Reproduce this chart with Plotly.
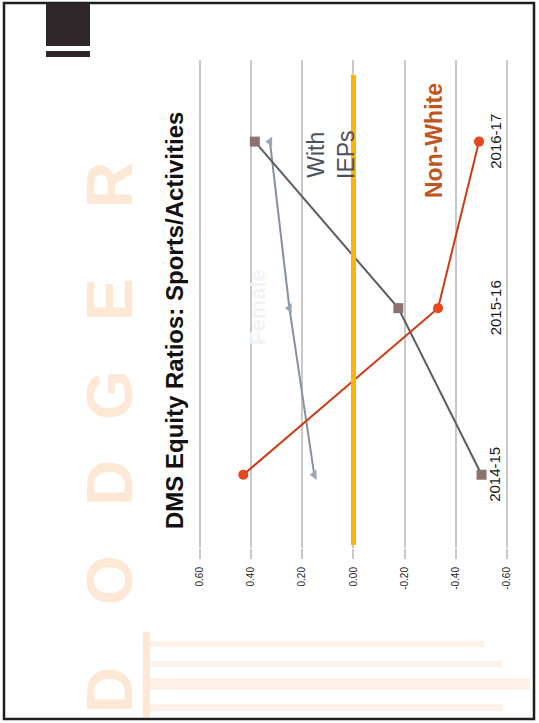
import plotly.graph_objects as go

# School years (category axis) and equity ratio values per group
years = ["2014-15", "2015-16", "2016-17"]
non_white = [0.43, -0.33, -0.49]
with_ieps = [-0.50, -0.175, 0.385]
female = [0.153, 0.25, 0.326]

value_ticks = [0.6, 0.4, 0.2, 0.0, -0.2, -0.4, -0.6]
value_tick_text = ["0.60", "0.40", "0.20", "0.00", "-0.20", "-0.40", "-0.60"]

W, H = 539, 723
FONT = "Liberation Sans, Arial, sans-serif"


def px_x(p):
    return p / W


def px_y(p):
    return 1 - p / H


fig = go.Figure()

fig.add_trace(go.Scatter(
    x=female, y=years, mode="lines+markers",
    line=dict(color="#8591a0", width=2),
    marker=dict(symbol="triangle-left", size=9, color="#97a6b8"),
    showlegend=False,
))
fig.add_trace(go.Scatter(
    x=with_ieps, y=years, mode="lines+markers",
    line=dict(color="#5c5b5e", width=2),
    marker=dict(symbol="square", size=10, color="#8c7370"),
    showlegend=False,
))
fig.add_trace(go.Scatter(
    x=non_white, y=years, mode="lines+markers",
    line=dict(color="#d03a16", width=2),
    marker=dict(symbol="circle", size=10, color="#e8461c"),
    showlegend=False,
))

shapes = []
# slide frame
shapes.append(dict(type="rect", xref="paper", yref="paper",
                   x0=px_x(4), x1=px_x(534), y0=px_y(719), y1=px_y(3),
                   line=dict(color="#1e1e1e", width=2.5), layer="below"))
# dark corner block
shapes.append(dict(type="rect", xref="paper", yref="paper",
                   x0=px_x(46), x1=px_x(90), y0=px_y(46), y1=px_y(3),
                   fillcolor="#2f2729", line=dict(width=0), layer="below"))
shapes.append(dict(type="rect", xref="paper", yref="paper",
                   x0=px_x(46), x1=px_x(90), y0=px_y(57), y1=px_y(51),
                   fillcolor="#2f2729", line=dict(width=0), layer="below"))
# faint stripes near the bottom of the slide
for y0, y1, x1 in [(641, 647, 484), (661, 667, 503), (678, 690, 530), (704, 711, 503)]:
    shapes.append(dict(type="rect", xref="paper", yref="paper",
                       x0=px_x(150), x1=px_x(x1), y0=px_y(y1), y1=px_y(y0),
                       fillcolor="#fef2e8", line=dict(width=0), layer="below"))
shapes.append(dict(type="rect", xref="paper", yref="paper",
                   x0=px_x(143), x1=px_x(150), y0=px_y(717), y1=px_y(632),
                   fillcolor="#fde6d4", line=dict(width=0), layer="below"))
# zero reference line
shapes.append(dict(type="line", xref="x", yref="paper",
                   x0=0, x1=0, y0=px_y(545), y1=px_y(75),
                   line=dict(color="#f9b40a", width=5)))

annotations = []
# watermark letters
for letter, yc in zip("DODGER", [690, 580, 483, 395, 300, 185]):
    annotations.append(dict(
        text="<b>" + letter + "</b>", xref="paper", yref="paper",
        x=px_x(110), y=px_y(yc), textangle=-90, showarrow=False,
        font=dict(family=FONT, size=64, color="#fde8d6"),
        xanchor="center", yanchor="middle"))
# title
annotations.append(dict(
    text="<b>DMS Equity Ratios: Sports/Activities</b>", xref="paper", yref="paper",
    x=px_x(174), y=px_y(321), textangle=-90, showarrow=False,
    font=dict(family=FONT, size=24, color="#111111"),
    xanchor="center", yanchor="middle"))
# category labels
for yr in years:
    annotations.append(dict(
        text=yr, xref="x", yref="y", x=-0.553, y=yr, textangle=-90,
        showarrow=False, font=dict(family=FONT, size=15, color="#1a1a1a"),
        xanchor="center", yanchor="middle"))
# series labels
annotations.append(dict(
    text="With<br>IEPs", xref="paper", yref="paper",
    x=px_x(331), y=px_y(155), textangle=-90, showarrow=False,
    font=dict(family=FONT, size=23, color="#4a4f5c"),
    xanchor="center", yanchor="middle"))
annotations.append(dict(
    text="<b>Non-White</b>", xref="paper", yref="paper",
    x=px_x(434), y=px_y(141), textangle=-90, showarrow=False,
    font=dict(family=FONT, size=23, color="#c0561e"),
    xanchor="center", yanchor="middle"))
annotations.append(dict(
    text="<b>Female</b>", xref="paper", yref="paper",
    x=px_x(257), y=px_y(307), textangle=-90, showarrow=False,
    font=dict(family=FONT, size=22, color="#f1f3f6"),
    xanchor="center", yanchor="middle"))

fig.update_layout(
    width=W, height=H,
    margin=dict(l=0, r=0, t=0, b=0),
    paper_bgcolor="white", plot_bgcolor="rgba(0,0,0,0)",
    shapes=shapes, annotations=annotations,
    xaxis=dict(
        domain=[px_x(180), px_x(530)],
        range=[0.677, -0.689],
        tickvals=value_ticks, ticktext=value_tick_text,
        tickangle=-90, ticks="outside", ticklen=10, tickwidth=2,
        tickcolor="#c8c8c8", ticklabelstandoff=4,
        showgrid=True, gridcolor="#c8c8c8", gridwidth=2,
        zeroline=False, showline=False,
        tickfont=dict(family=FONT, size=10, color="#222222"),
    ),
    yaxis=dict(
        domain=[px_y(548), px_y(60)],
        type="category", categoryorder="array", categoryarray=years,
        range=[-0.44, 2.49],
        showgrid=False, zeroline=False, showline=False,
        showticklabels=False, ticks="",
    ),
)

fig.write_html("out.html")
